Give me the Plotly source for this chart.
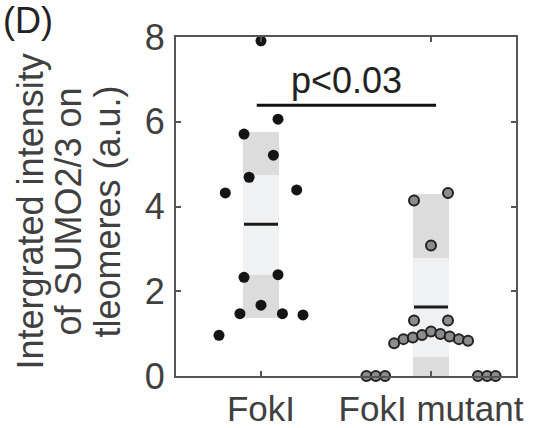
import plotly.graph_objects as go

# ---- data ----
categories = ["FokI", "FokI mutant"]
fokI_values = [7.91, 6.06, 5.71, 5.21, 4.69, 4.32, 4.39, 2.33, 2.39, 1.67, 1.47, 1.47, 1.44, 0.96]
fokI_jitter = [0.0, 0.10, -0.10, 0.073, -0.07, -0.21, 0.21, -0.10, 0.10, 0.0, -0.124, 0.126, 0.247, -0.247]
mut_values = [4.14, 4.32, 3.08, 1.31, 1.31,
              0.77, 0.87, 0.91, 0.97, 1.05, 0.99, 0.93, 0.87, 0.83,
              0.0, 0.0, 0.0, 0.0, 0.0, 0.0]
mut_jitter = [-0.10, 0.10, 0.0, -0.10, 0.10,
              -0.217, -0.162, -0.107, -0.053, 0.0, 0.055, 0.11, 0.164, 0.218,
              -0.38, -0.325, -0.27, 0.276, 0.33, 0.38]
means = [3.58, 1.63]
sd_low = [1.37, 0.0]
sd_high = [5.77, 4.30]
ci_low = [2.39, 0.46]
ci_high = [4.74, 2.78]
y_ticks = [0, 2, 4, 6, 8]
p_text = "p<0.03"
p_level = 6.39
p_span = [0.975, 2.03]

TXT = "#404040"
FONT = "Liberation Sans, Arial, sans-serif"
box_w = 0.213
pos = [1, 2]

fig = go.Figure()
# SD boxes (dark)
fig.add_trace(go.Bar(x=pos, base=sd_low, y=[h - l for h, l in zip(sd_high, sd_low)],
                     width=box_w, marker=dict(color="#dcdcdd", line=dict(width=0)),
                     hoverinfo="skip", showlegend=False))
# CI boxes (light)
fig.add_trace(go.Bar(x=pos, base=ci_low, y=[h - l for h, l in zip(ci_high, ci_low)],
                     width=box_w, marker=dict(color="#f0f1f2", line=dict(width=0)),
                     hoverinfo="skip", showlegend=False))
# mean lines
for p, m in zip(pos, means):
    fig.add_trace(go.Scatter(x=[p - 0.1, p + 0.1], y=[m, m], mode="lines",
                             line=dict(color="#1a1a1a", width=3), showlegend=False,
                             hoverinfo="skip"))
# points
fig.add_trace(go.Scatter(x=[pos[0] + j for j in fokI_jitter], y=fokI_values, mode="markers",
                         marker=dict(color="#141414", size=11, line=dict(width=0)),
                         cliponaxis=False, showlegend=False))
fig.add_trace(go.Scatter(x=[pos[1] + j for j in mut_jitter], y=mut_values, mode="markers",
                         marker=dict(color="#8c8c8c", size=10, line=dict(color="#222222", width=2)),
                         cliponaxis=False, showlegend=False))
# significance line
fig.add_trace(go.Scatter(x=p_span, y=[p_level, p_level], mode="lines",
                         line=dict(color="#111111", width=3), showlegend=False, hoverinfo="skip"))

fig.update_layout(
    width=537, height=428,
    margin=dict(l=176, r=21, t=37, b=52),
    paper_bgcolor="white", plot_bgcolor="white",
    barmode="overlay", bargap=0,
    font=dict(family=FONT, size=36, color=TXT),
    showlegend=False,
    xaxis=dict(range=[0.5, 2.5], tickvals=pos, ticktext=categories, automargin=False,
               ticks="inside", ticklen=5, tickwidth=2, tickcolor="#555555",
               showline=True, linecolor="#555555", linewidth=2, mirror="ticks",
               showgrid=False, zeroline=False, tickfont=dict(size=35, color=TXT),
               ticklabelstandoff=1),
    yaxis=dict(range=[0, 8], tickvals=y_ticks, ticks="inside", ticklen=5, tickwidth=2,
               automargin=False,
               tickcolor="#555555", showline=True, linecolor="#555555", linewidth=2,
               mirror="ticks", showgrid=False, zeroline=False,
               tickfont=dict(size=36, color=TXT), ticklabelstandoff=2),
)

title_lines = ["Intergrated intensity", "of SUMO2/3 on", "tleomeres (a.u.)"]
for shift, line in zip([-146, -108, -69], title_lines):
    fig.add_annotation(text=line, xref="paper", yref="paper", x=0, y=0.5, xshift=shift, yshift=-5,
                       textangle=-90, showarrow=False, xanchor="center", yanchor="middle",
                       font=dict(size=36, color=TXT, family=FONT))

fig.add_annotation(text=p_text, x=1.5, y=p_level, xref="x", yref="y", yanchor="bottom",
                   yshift=2, showarrow=False, font=dict(size=36, color="#222222", family=FONT))
fig.add_annotation(text="(D)", xref="paper", yref="paper", x=0, y=1, xshift=-148, yshift=17,
                   xanchor="center", yanchor="middle", showarrow=False,
                   font=dict(size=36, color="#222222", family=FONT))

fig.write_html("out.html", config={"displayModeBar": False},
               post_script="document.body.style.margin='0';")
